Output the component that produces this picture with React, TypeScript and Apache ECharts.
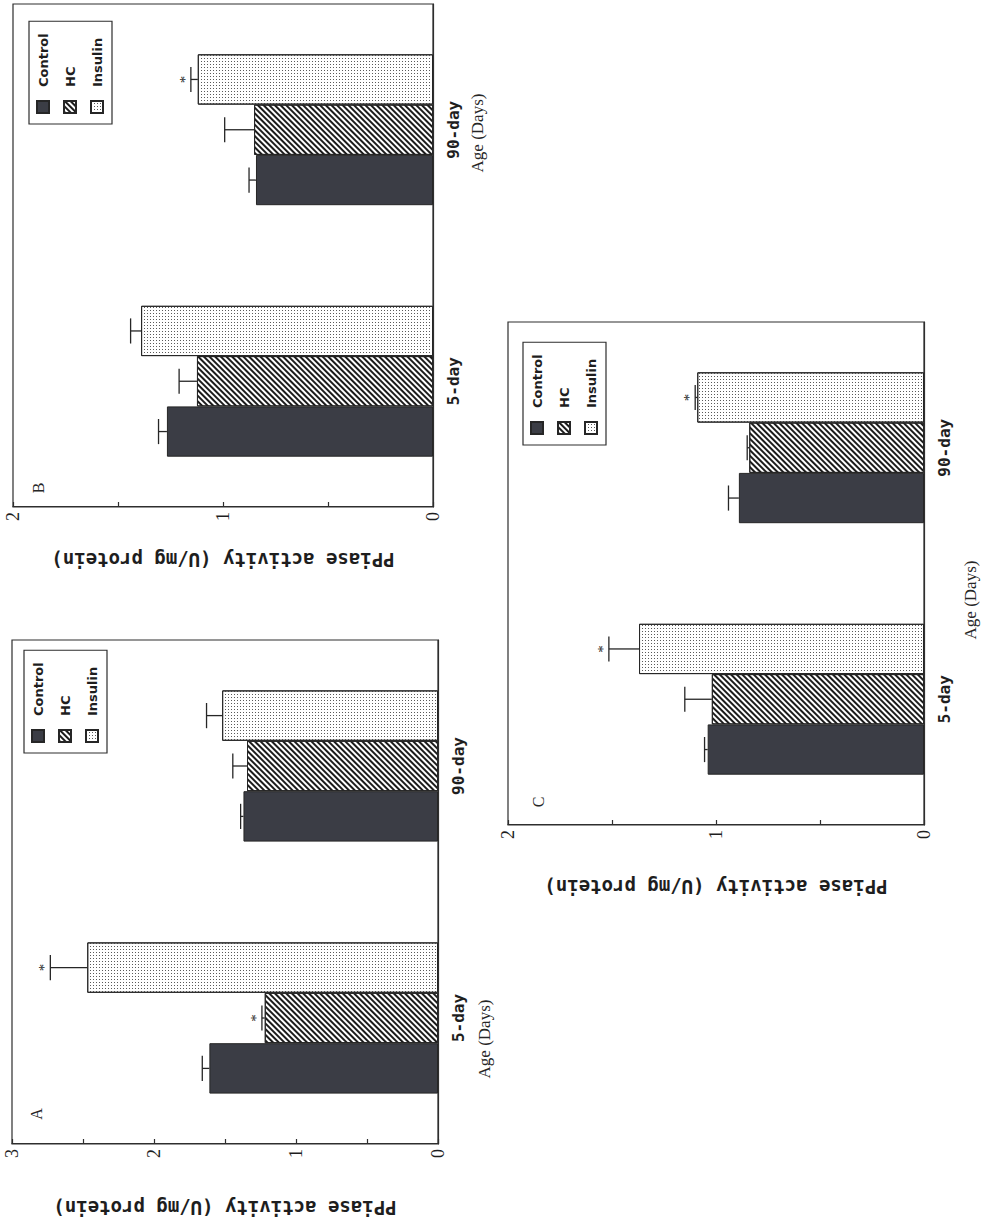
import React, { useEffect, useRef } from 'react';
import * as echarts from 'echarts';

// ---------- data ----------
const categories = ['5-day', '90-day'];
const groupNames = ['Control', 'HC', 'Insulin'];
const panelNames = ['A', 'B', 'C'];
const valueAxisTitle = 'PPiase activity (U/mg protein)';
const ageTitle = 'Age (Days)';
const panelMax = [3, 2, 2];
const tickStep = 0.5;

// Panel A
const aControl = [1.61, 1.37];
const aControlErr = [0.05, 0.02];
const aHC = [1.22, 1.345];
const aHCErr = [0.02, 0.1];
const aInsulin = [2.47, 1.52];
const aInsulinErr = [0.26, 0.11];
const aStars = [[0, 0], [1, 0], [1, 0]];

// Panel B
const bControl = [1.267, 0.843];
const bControlErr = [0.04, 0.033];
const bHC = [1.124, 0.852];
const bHCErr = [0.085, 0.14];
const bInsulin = [1.39, 1.12];
const bInsulinErr = [0.05, 0.033];
const bStars = [[0, 0], [0, 0], [0, 1]];

// Panel C
const cControl = [1.04, 0.89];
const cControlErr = [0.015, 0.05];
const cHC = [1.02, 0.84];
const cHCErr = [0.13, 0.01];
const cInsulin = [1.37, 1.09];
const cInsulinErr = [0.145, 0.01];
const cStars = [[0, 0], [0, 0], [1, 1]];

const panels = [
  { values: [aControl, aHC, aInsulin], errs: [aControlErr, aHCErr, aInsulinErr], stars: aStars },
  { values: [bControl, bHC, bInsulin], errs: [bControlErr, bHCErr, bInsulinErr], stars: bStars },
  { values: [cControl, cHC, cInsulin], errs: [cControlErr, cHCErr, cInsulinErr], stars: cStars },
];

// ---------- layout (unrotated frame 1229 x 983) ----------
const gridBoxes = [
  { left: 85, top: 12, width: 504, height: 426 },
  { left: 722, top: 13, width: 503, height: 420 },
  { left: 404, top: 508, width: 503, height: 416 },
];
const legendPos = [
  { left: 476, top: 24 },
  { left: 1105, top: 29 },
  { left: 784, top: 523 },
];
const nameGaps = [54, 43, 52];
const panelLabelPos = [
  [115, 36],
  [741, 38],
  [427, 538],
];
const agePos = [
  [190, 484],
  [1096, 477],
  [629, 970],
];

const INK = '#262626';
const lineStyle = { color: '#2e2e2e', width: 1.2 };

const groupStyles: any[] = [
  { color: '#3b3d45', borderColor: INK, borderWidth: 1 },
  {
    color: '#ffffff',
    borderColor: INK,
    borderWidth: 1,
    decal: {
      symbol: 'rect',
      symbolSize: 1,
      color: '#1c1c1c',
      dashArrayX: [1, 0],
      dashArrayY: [1.4, 1.6],
      rotation: -Math.PI / 4,
    },
  },
  {
    color: '#ffffff',
    borderColor: INK,
    borderWidth: 1,
    decal: {
      symbol: 'rect',
      symbolSize: 1,
      color: '#5a5a5a',
      dashArrayX: [1, 2],
      dashArrayY: [1, 2],
      rotation: 0,
    },
  },
];

function renderErr(params: any, api: any) {
  const c = api.value(0);
  const val = api.value(1);
  const err = api.value(2);
  const g = api.value(3);
  const star = api.value(4);
  const band = api.size([1, 0])[0];
  const bw = (band * 0.6) / 3;
  const cx = api.coord([c, 0])[0] + (g - 1) * bw;
  const yBar = api.coord([c, val])[1];
  const yEnd = api.coord([c, val + err])[1];
  const half = bw * 0.25;
  const st = { stroke: INK, lineWidth: 1.3 };
  const children: any[] = [
    { type: 'line', shape: { x1: cx, y1: yBar, x2: cx, y2: yEnd }, style: st },
    { type: 'line', shape: { x1: cx - half, y1: yEnd, x2: cx + half, y2: yEnd }, style: st },
  ];
  if (star) {
    children.push({
      type: 'text',
      x: cx,
      y: yEnd - 6,
      style: {
        text: '*',
        fill: INK,
        fontSize: 15,
        fontFamily: 'Liberation Serif',
        align: 'center',
        verticalAlign: 'middle',
      },
    });
  }
  return { type: 'group', children };
}

function buildOption() {
  const series: any[] = [];
  panels.forEach((p, pi) => {
    groupNames.forEach((name, gi) => {
      series.push({
        type: 'bar',
        name,
        xAxisIndex: pi,
        yAxisIndex: pi,
        data: p.values[gi],
        barGap: '0%',
        barCategoryGap: '40%',
        itemStyle: groupStyles[gi],
        emphasis: { disabled: true },
      });
    });
    const errData: any[] = [];
    groupNames.forEach((_, gi) => {
      categories.forEach((_, ci) => {
        errData.push([ci, p.values[gi][ci], p.errs[gi][ci], gi, p.stars[gi][ci]]);
      });
    });
    series.push({
      type: 'custom',
      xAxisIndex: pi,
      yAxisIndex: pi,
      renderItem: renderErr,
      encode: { x: 0, y: 1 },
      data: errData,
      z: 5,
      silent: true,
    });
  });

  const graphic: any[] = [];
  panelNames.forEach((n, i) => {
    graphic.push({
      type: 'text',
      x: panelLabelPos[i][0],
      y: panelLabelPos[i][1],
      style: {
        text: n,
        fill: INK,
        fontSize: 16,
        fontFamily: 'Liberation Serif',
        align: 'center',
        verticalAlign: 'middle',
      },
    });
    graphic.push({
      type: 'text',
      x: agePos[i][0],
      y: agePos[i][1],
      style: {
        text: ageTitle,
        fill: INK,
        fontSize: 17,
        fontFamily: 'Liberation Serif',
        align: 'center',
        verticalAlign: 'middle',
      },
    });
  });

  return {
    animation: false,
    backgroundColor: '#ffffff',
    grid: gridBoxes.map((b) => ({
      ...b,
      show: true,
      borderColor: '#2e2e2e',
      borderWidth: 1.2,
      backgroundColor: 'transparent',
    })),
    xAxis: panels.map((_, i) => ({
      type: 'category',
      gridIndex: i,
      data: categories,
      axisLine: { show: true, lineStyle },
      axisTick: { show: false },
      splitLine: { show: false },
      axisLabel: {
        margin: 12,
        fontFamily: 'DejaVu Sans Mono',
        fontWeight: 'bold',
        fontSize: 16,
        color: '#1e1e1e',
      },
    })),
    yAxis: panels.map((_, i) => ({
      type: 'value',
      gridIndex: i,
      min: 0,
      max: panelMax[i],
      interval: tickStep,
      axisLine: { show: true, lineStyle },
      axisTick: { show: true, inside: true, length: 5, lineStyle },
      splitLine: { show: false },
      axisLabel: {
        margin: 5,
        fontFamily: 'Liberation Serif',
        fontSize: 18,
        color: '#1e1e1e',
        formatter: (v: number) => (Math.abs(v - Math.round(v)) < 1e-9 ? String(Math.round(v)) : ''),
      },
      name: valueAxisTitle,
      nameLocation: 'middle',
      nameGap: nameGaps[i],
      nameTextStyle: {
        fontFamily: 'DejaVu Sans Mono',
        fontWeight: 'bold',
        fontSize: 19,
        color: '#1e1e1e',
      },
    })),
    legend: legendPos.map((pos) => ({
      ...pos,
      orient: 'vertical',
      data: groupNames,
      icon: 'rect',
      itemWidth: 12,
      itemHeight: 12,
      itemGap: 13,
      padding: [7, 12, 8, 10],
      borderColor: '#2e2e2e',
      borderWidth: 1.2,
      backgroundColor: '#ffffff',
      selectedMode: false,
      textStyle: {
        fontFamily: 'DejaVu Sans',
        fontWeight: 'bold',
        fontSize: 13,
        color: '#1e1e1e',
        padding: [0, 0, 0, 9],
      },
    })),
    graphic,
    series,
  };
}

export default function App() {
  const ref = useRef<HTMLDivElement>(null);
  useEffect(() => {
    if (!ref.current) return;
    const chart = echarts.init(ref.current, null, { renderer: 'svg' });
    chart.setOption(buildOption() as any);
    return () => chart.dispose();
  }, []);
  return (
    <div
      style={{
        position: 'fixed',
        left: 0,
        top: 0,
        width: 983,
        height: 1229,
        overflow: 'hidden',
        background: '#ffffff',
      }}
    >
      <div
        ref={ref}
        style={{
          position: 'absolute',
          left: 0,
          top: 0,
          width: 1229,
          height: 983,
          transformOrigin: '0 0',
          transform: 'translate(0px, 1229px) rotate(-90deg)',
        }}
      />
    </div>
  );
}
